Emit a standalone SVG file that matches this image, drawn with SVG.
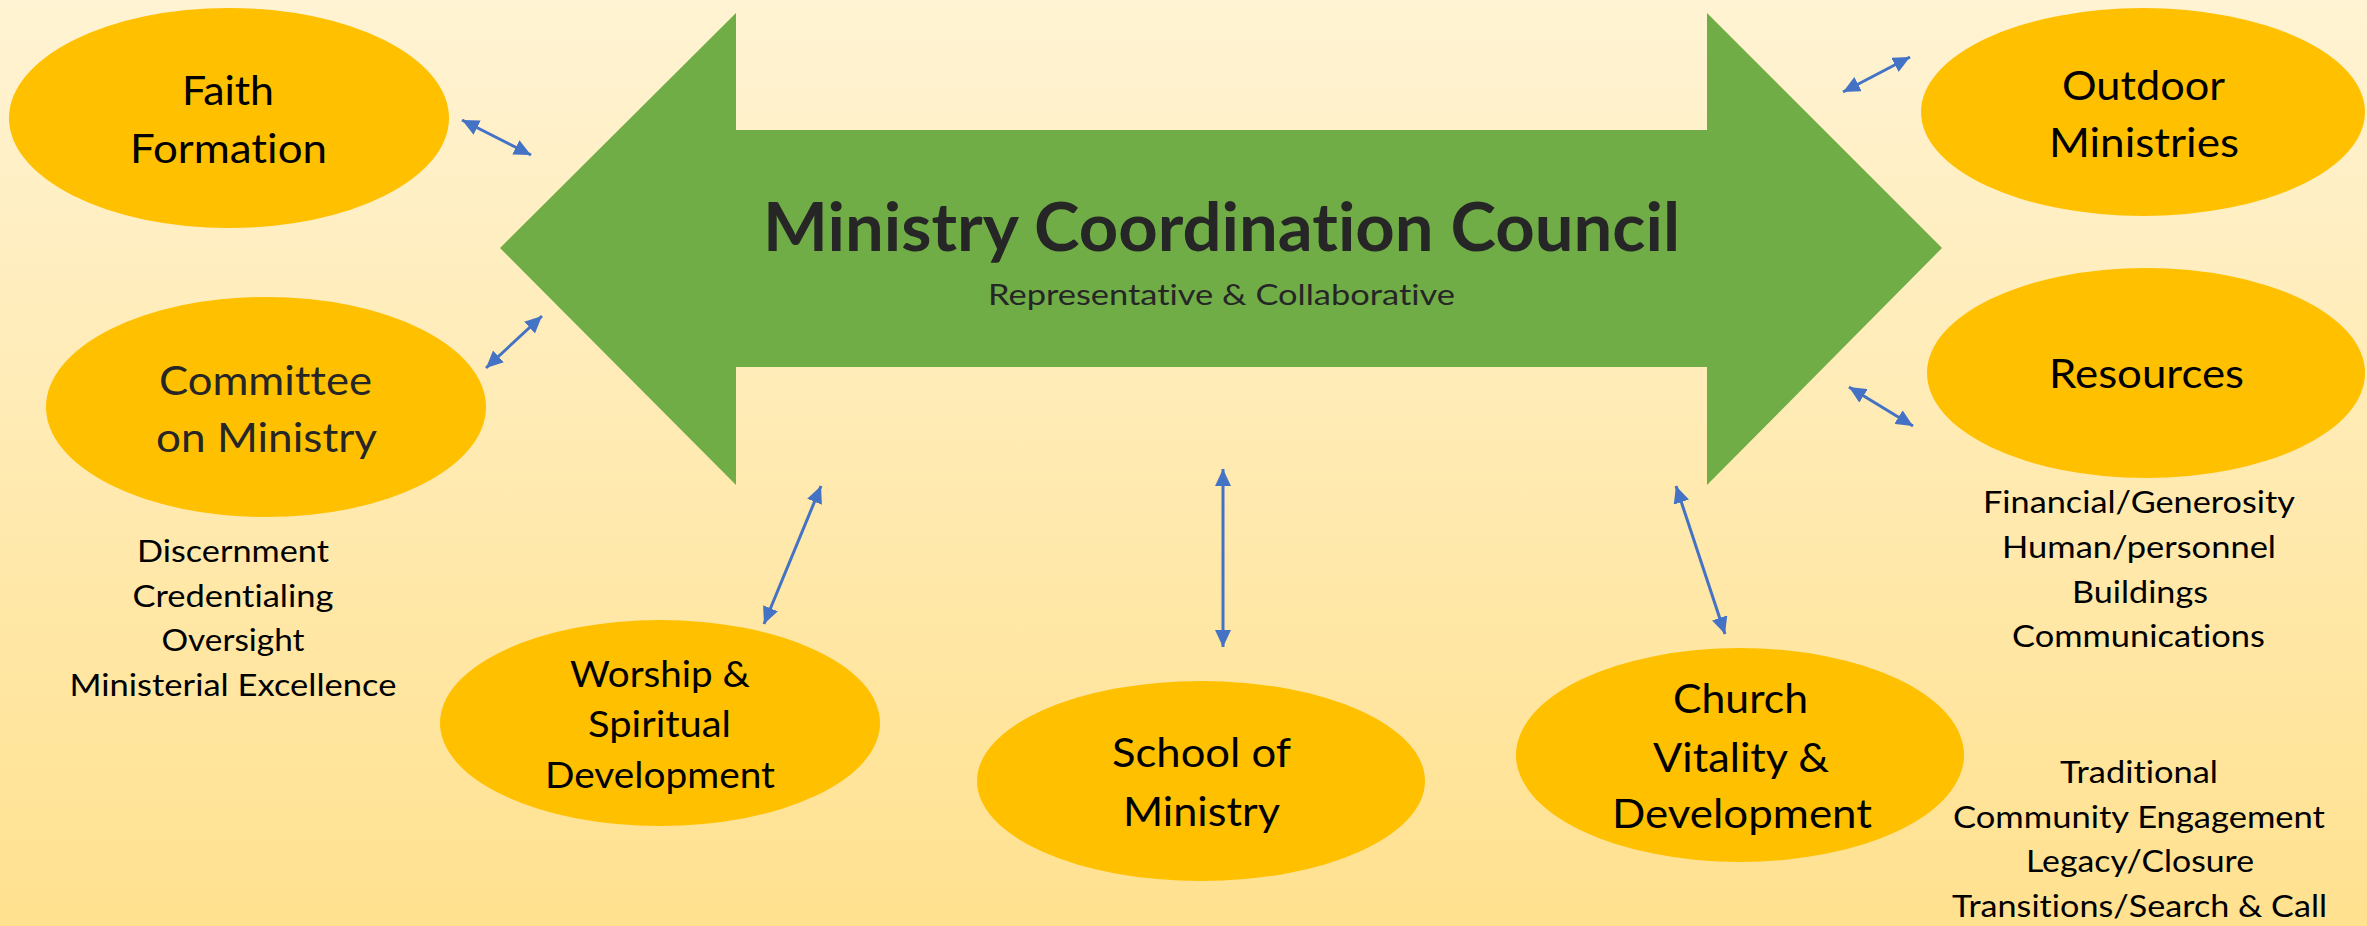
<svg xmlns="http://www.w3.org/2000/svg" width="2367" height="926" viewBox="0 0 2367 926">
<defs>
<linearGradient id="bg" x1="0" y1="0" x2="0" y2="1">
<stop offset="0" stop-color="#FFF3D3"/>
<stop offset="1" stop-color="#FFE18F"/>
</linearGradient>
<marker id="ah" markerUnits="userSpaceOnUse" markerWidth="18" markerHeight="16" viewBox="0 0 18 16" refX="17" refY="8" orient="auto-start-reverse">
<path d="M0,0 L17,8 L0,16 Z" fill="#4472C4"/>
</marker>
<style>
.node{fill:#FFC000;}
.t{font-family:Lato,"Liberation Sans",sans-serif;text-anchor:middle;fill:#000;font-variant-ligatures:none;font-feature-settings:"liga" 0;}
.n{font-size:41px;}
.w{font-size:37px;}
.l{font-size:30px;}
.dk{fill:#262626;}
.con{stroke:#4472C4;stroke-width:3;fill:none;marker-start:url(#ah);marker-end:url(#ah);}
</style>
</defs>
<rect x="0" y="0" width="2367" height="926" fill="url(#bg)"/>

<g id="council">
<polygon points="500,248 736,13 736,130 1707,130 1707,13 1942,248 1707,485 1707,367 736,367 736,485" fill="#70AD47"/>
<text class="t dk" x="1221.5" y="251" font-size="67" font-weight="bold" textLength="917" lengthAdjust="spacingAndGlyphs">Ministry Coordination Council</text>
<text class="t dk" x="1221.5" y="305" font-size="29" textLength="467" lengthAdjust="spacingAndGlyphs">Representative &amp; Collaborative</text>
</g>

<g id="faith-formation">
<ellipse class="node" cx="229" cy="118" rx="220" ry="110"/>
<text class="t n" x="228" y="105" textLength="92" lengthAdjust="spacingAndGlyphs">Faith</text>
<text class="t n" x="228.5" y="163" textLength="197" lengthAdjust="spacingAndGlyphs">Formation</text>
</g>

<g id="committee-on-ministry">
<ellipse class="node" cx="266" cy="407" rx="220" ry="110"/>
<text class="t n dk" x="265.5" y="395" textLength="213" lengthAdjust="spacingAndGlyphs">Committee</text>
<text class="t n dk" x="266.5" y="452" textLength="221" lengthAdjust="spacingAndGlyphs">on Ministry</text>
</g>

<g id="committee-list">
<text class="t l" x="233" y="562" textLength="192" lengthAdjust="spacingAndGlyphs">Discernment</text>
<text class="t l" x="233" y="607" textLength="201" lengthAdjust="spacingAndGlyphs">Credentialing</text>
<text class="t l" x="233" y="651" textLength="143" lengthAdjust="spacingAndGlyphs">Oversight</text>
<text class="t l" x="233" y="696" textLength="327" lengthAdjust="spacingAndGlyphs">Ministerial Excellence</text>
</g>

<g id="worship">
<ellipse class="node" cx="660" cy="723" rx="220" ry="103"/>
<text class="t w" x="660" y="687" textLength="180" lengthAdjust="spacingAndGlyphs">Worship &amp;</text>
<text class="t w" x="659.5" y="737" textLength="143" lengthAdjust="spacingAndGlyphs">Spiritual</text>
<text class="t w" x="660" y="788" textLength="230" lengthAdjust="spacingAndGlyphs">Development</text>
</g>

<g id="school-of-ministry">
<ellipse class="node" cx="1201" cy="781" rx="224" ry="100"/>
<text class="t n" x="1201.5" y="767" textLength="179" lengthAdjust="spacingAndGlyphs">School of</text>
<text class="t n" x="1201.5" y="826" textLength="157" lengthAdjust="spacingAndGlyphs">Ministry</text>
</g>

<g id="church-vitality">
<ellipse class="node" cx="1740" cy="755" rx="224" ry="107"/>
<text class="t n" x="1740.5" y="713" textLength="135" lengthAdjust="spacingAndGlyphs">Church</text>
<text class="t n" x="1741" y="772" textLength="176" lengthAdjust="spacingAndGlyphs">Vitality &amp;</text>
<text class="t n" x="1742" y="828" textLength="260" lengthAdjust="spacingAndGlyphs">Development</text>
</g>

<g id="church-list">
<text class="t l" x="2139" y="783" textLength="158" lengthAdjust="spacingAndGlyphs">Traditional</text>
<text class="t l" x="2139" y="828" textLength="372" lengthAdjust="spacingAndGlyphs">Community Engagement</text>
<text class="t l" x="2140" y="872" textLength="228" lengthAdjust="spacingAndGlyphs">Legacy/Closure</text>
<text class="t l" x="2139.5" y="917" textLength="375" lengthAdjust="spacingAndGlyphs">Transitions/Search &amp; Call</text>
</g>

<g id="outdoor-ministries">
<ellipse class="node" cx="2143" cy="112" rx="222" ry="104"/>
<text class="t n" x="2143.5" y="100" textLength="163" lengthAdjust="spacingAndGlyphs">Outdoor</text>
<text class="t n" x="2144" y="157" textLength="190" lengthAdjust="spacingAndGlyphs">Ministries</text>
</g>

<g id="resources">
<ellipse class="node" cx="2146" cy="373" rx="219" ry="105"/>
<text class="t n" x="2146.5" y="388" textLength="195" lengthAdjust="spacingAndGlyphs">Resources</text>
</g>

<g id="resources-list">
<text class="t l" x="2139" y="513" textLength="312" lengthAdjust="spacingAndGlyphs">Financial/Generosity</text>
<text class="t l" x="2139" y="558" textLength="274" lengthAdjust="spacingAndGlyphs">Human/personnel</text>
<text class="t l" x="2140" y="603" textLength="136" lengthAdjust="spacingAndGlyphs">Buildings</text>
<text class="t l" x="2138.5" y="647" textLength="253" lengthAdjust="spacingAndGlyphs">Communications</text>
</g>

<g id="connectors">
<line class="con" x1="462" y1="120" x2="531" y2="155"/>
<line class="con" x1="542" y1="316" x2="486" y2="368"/>
<line class="con" x1="821" y1="486" x2="764" y2="624"/>
<line class="con" x1="1223" y1="469" x2="1223" y2="647"/>
<line class="con" x1="1676" y1="486" x2="1725" y2="634"/>
<line class="con" x1="1849" y1="387" x2="1913" y2="426"/>
<line class="con" x1="1910" y1="57" x2="1843" y2="92"/>
</g>
</svg>
